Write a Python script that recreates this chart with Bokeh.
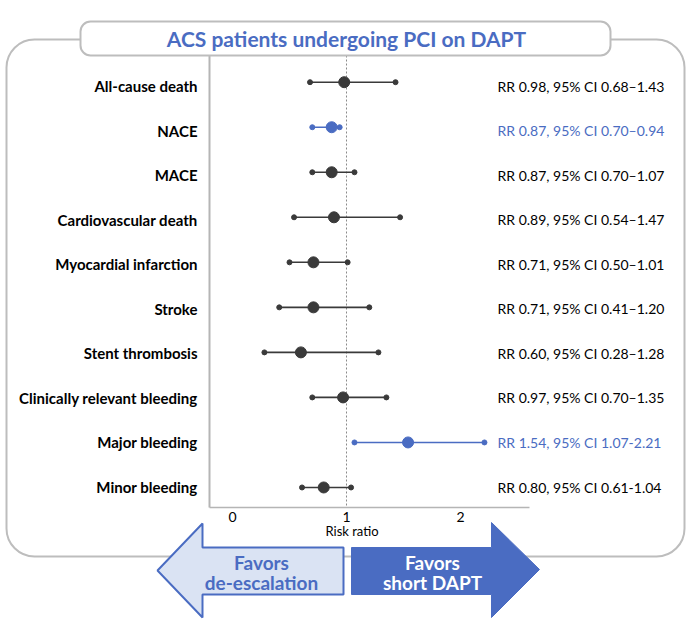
from bokeh.plotting import figure
from bokeh.models import Range1d, ColumnDataSource
from bokeh.embed import file_html
from bokeh.resources import INLINE
from bokeh.core.properties import value

# ---------------- data ----------------
outcomes = [
    "All-cause death", "NACE", "MACE", "Cardiovascular death",
    "Myocardial infarction", "Stroke", "Stent thrombosis",
    "Clinically relevant bleeding", "Major bleeding", "Minor bleeding",
]
rr = [0.98, 0.87, 0.87, 0.89, 0.71, 0.71, 0.60, 0.97, 1.54, 0.80]
ci_lo = [0.68, 0.70, 0.70, 0.54, 0.50, 0.41, 0.28, 0.70, 1.07, 0.61]
ci_hi = [1.43, 0.94, 1.07, 1.47, 1.01, 1.20, 1.28, 1.35, 2.21, 1.04]
significant = [False, True, False, False, False, False, False, False, True, False]
ci_text = [
    "RR 0.98, 95% CI 0.68\u20131.43",
    "RR 0.87, 95% CI 0.70\u20130.94",
    "RR 0.87, 95% CI 0.70\u20131.07",
    "RR 0.89, 95% CI 0.54\u20131.47",
    "RR 0.71, 95% CI 0.50\u20131.01",
    "RR 0.71, 95% CI 0.41\u20131.20",
    "RR 0.60, 95% CI 0.28\u20131.28",
    "RR 0.97, 95% CI 0.70\u20131.35",
    "RR 1.54, 95% CI 1.07-2.21",
    "RR 0.80, 95% CI 0.61-1.04",
]
x_ticks = [0, 1, 2]
x_tick_labels = ["0", "1", "2"]
reference_value = 1
title_text = "ACS patients undergoing PCI on DAPT"
x_label = "Risk ratio"
left_arrow_text = ["Favors", "de-escalation"]
right_arrow_text = ["Favors", "short DAPT"]

# ---------------- style / layout ----------------
BLUE = "#4a6cc2"
LIGHT = "#dae3f3"
DARK = "#3a3a3a"
GRAY = "#bdbdbd"
FONT = value("Lato")

W, H = 686, 622
X0_PX, PX_PER_UNIT = 232, 114        # px of value 0, px per unit
ROW0_PX, ROW_STEP = 81.7, 45.03      # markers: px of first row, px per row
TROW0_PX, TROW_STEP = 85.5, 44.56    # row texts: px of first row, px per row

x_range = Range1d(-X0_PX / PX_PER_UNIT, (W - X0_PX) / PX_PER_UNIT)
y_range = Range1d((H - ROW0_PX) / ROW_STEP, -ROW0_PX / ROW_STEP)

p = figure(width=W, height=H, x_range=x_range, y_range=y_range,
           output_backend="svg", toolbar_location=None,
           x_axis_location=None, y_axis_location=None, min_border=0,
           outline_line_color=None, background_fill_color="white",
           border_fill_color="white")
p.grid.visible = False
p.extra_x_ranges = {"px": Range1d(0, W)}
p.extra_y_ranges = {"px": Range1d(H, 0),
                    "rowtxt": Range1d((H - TROW0_PX) / TROW_STEP, -TROW0_PX / TROW_STEP)}

rows = list(range(len(outcomes)))
colors = [BLUE if s else DARK for s in significant]
src = ColumnDataSource(dict(y=rows, rr=rr, lo=ci_lo, hi=ci_hi, label=outcomes,
                            txt=ci_text, color=colors,
                            tcolor=[BLUE if s else "black" for s in significant]))

# outer rounded frame
p.quad(left=6, right=684, top=39, bottom=556, x_range_name="px", y_range_name="px",
       fill_color=None, line_color=GRAY, line_width=2, border_radius=28)

# plot axes (left & bottom lines), reference line
p.segment(x0=[209], x1=[209], y0=[55], y1=[507], x_range_name="px", y_range_name="px",
          line_color="#b5b5b5", line_width=2)
p.segment(x0=[209], x1=[529], y0=[507], y1=[507], x_range_name="px", y_range_name="px",
          line_color="#b5b5b5", line_width=1.5)
p.segment(x0=[reference_value], x1=[reference_value], y0=[55], y1=[506],
          y_range_name="px", line_color="#8a8a8a", line_width=1, line_dash="2 2")

# tick labels & axis label
p.text(x=x_ticks, y=[516] * len(x_ticks), text=x_tick_labels, y_range_name="px",
       text_font=FONT, text_font_size="14px", text_align="center",
       text_baseline="middle", text_color="black")
p.text(x=[reference_value], y=[530], text=[x_label], y_range_name="px",
       text_font=FONT, text_font_size="13px", text_align="left",
       text_baseline="middle", text_color="black", x_offset=-21)

# confidence intervals and points
p.segment(x0="lo", x1="hi", y0="y", y1="y", source=src, line_color="color", line_width=1.6)
p.scatter(x="lo", y="y", source=src, size=5, fill_color="color", line_color="color")
p.scatter(x="hi", y="y", source=src, size=5, fill_color="color", line_color="color")
p.scatter(x="rr", y="y", source=src, size=11, fill_color="color", line_color="color")

# row labels and CI texts
p.text(x=197, y="y", text="label", source=src, x_range_name="px", y_range_name="rowtxt",
       text_font=FONT, text_font_style="bold", text_font_size="15px",
       text_align="right", text_baseline="middle", text_color="black")
p.text(x=497, y="y", text="txt", source=src, x_range_name="px", y_range_name="rowtxt",
       text_font=FONT, text_font_size="14px",
       text_align="left", text_baseline="middle", text_color="tcolor")

# title box
p.quad(left=80, right=610, top=21, bottom=55, x_range_name="px", y_range_name="px",
       fill_color="white", line_color=GRAY, line_width=2, border_radius=10)
p.text(x=[346], y=[38], text=[title_text], x_range_name="px", y_range_name="px",
       text_font=FONT, text_font_style="bold", text_font_size="21px",
       text_align="center", text_baseline="middle", text_color=BLUE)

# arrows
p.patch(x=[157, 202, 202, 343, 343, 202, 202], y=[570, 523, 547, 547, 594, 594, 617],
        x_range_name="px", y_range_name="px", fill_color=LIGHT, line_color=BLUE,
        line_width=2)
p.patch(x=[351, 491, 491, 539, 491, 491, 351], y=[547, 547, 522, 569, 617, 594, 594],
        x_range_name="px", y_range_name="px", fill_color=BLUE, line_color=BLUE,
        line_width=1)
p.text(x=[261, 261], y=[562, 582], text=left_arrow_text, x_range_name="px", y_range_name="px",
       text_font=FONT, text_font_style="bold", text_font_size="19px",
       text_align="center", text_baseline="middle", text_color=BLUE)
p.text(x=[432, 432], y=[562, 582], text=right_arrow_text, x_range_name="px", y_range_name="px",
       text_font=FONT, text_font_style="bold", text_font_size="19px",
       text_align="center", text_baseline="middle", text_color="white")

open("out.html", "w").write(file_html(p, INLINE))
